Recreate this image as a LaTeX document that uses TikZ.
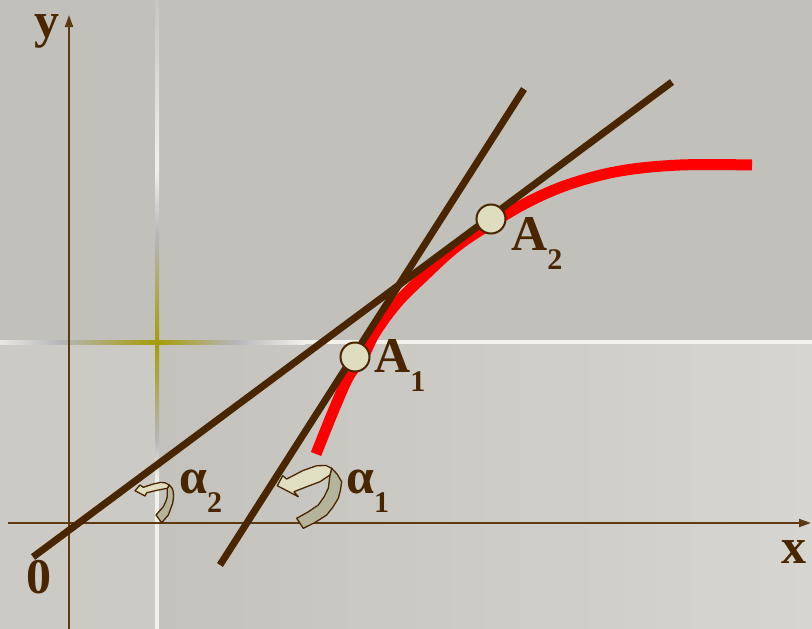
\documentclass[tikz,border=0pt]{standalone}
\usepackage{fontspec}
\setmainfont{Liberation Serif}
\usetikzlibrary{arrows.meta}
\definecolor{bgtop}{HTML}{C1C0BB}
\definecolor{bgleft}{HTML}{CBCAC4}
\definecolor{bglo1}{HTML}{C3C2BD}
\definecolor{bglo2}{HTML}{D6D5CF}
\definecolor{glwhite}{HTML}{F2F1EA}
\definecolor{glgray}{HTML}{B6B6BA}
\definecolor{glolive}{HTML}{A59D05}
\definecolor{glfaint}{HTML}{C6C5C0}
\definecolor{axisbrown}{HTML}{5C3A14}
\definecolor{linebrown}{HTML}{4A2600}
\definecolor{ptfill}{HTML}{DEDDC0}
\definecolor{arlight}{HTML}{E0DFC2}
\definecolor{ardark}{HTML}{B4B49A}
\newcommand\subtx[1]{\lower19pt\hbox{\fontsize{30}{30}\selectfont #1}}
\begin{document}
\begin{tikzpicture}[x=1pt,y=-1pt,
  axisline/.style={draw=axisbrown,line width=2pt,-{Triangle[length=12pt,width=8pt]}},
  tangent/.style={draw=linebrown,line width=7pt},
  curve/.style={draw=red,line width=11pt},
  pt/.style={circle,draw=linebrown,fill=ptfill,line width=2pt,minimum size=29pt,inner sep=0pt},
  lbl/.style={anchor=base west,inner sep=0pt,text=linebrown,font=\fontsize{50}{50}\selectfont\bfseries},
  arlt/.style={fill=arlight,draw=linebrown,line width=1.3pt,line join=round},
  ardk/.style={fill=ardark,draw=linebrown,line width=1.3pt,line join=round}]
\useasboundingbox (0,0) rectangle (812,629);
% background
\fill[bgtop] (0,0) rectangle (812,629);
\fill[bgleft] (0,342) rectangle (157,629);
\shade[left color=bglo1,right color=bglo2] (157,342) rectangle (812,629);
% vertical guide line
\shade[top color=glfaint,bottom color=glwhite] (155,0) rectangle (159,170);
\shade[top color=glwhite,bottom color=glgray] (155,170) rectangle (159,235);
\shade[top color=glgray,bottom color=glolive] (155,235) rectangle (159,342);
\shade[top color=glolive,bottom color=glgray] (155,342) rectangle (159,440);
\shade[top color=glgray,bottom color=glwhite] (155,440) rectangle (159,480);
\fill[glwhite] (155,480) rectangle (159,629);
% horizontal guide line
\shade[left color=glwhite!80!glfaint,right color=glgray] (0,340) rectangle (60,344);
\shade[left color=glgray,right color=glolive] (60,340) rectangle (157,344);
\shade[left color=glolive,right color=glgray] (157,340) rectangle (235,344);
\shade[left color=glgray,right color=glwhite] (235,340) rectangle (305,344);
\fill[glwhite] (305,340) rectangle (812,344);
% axes
\coordinate (yb) at (69,629);
\coordinate (yt) at (69,15);
\coordinate (xl) at (8,523);
\coordinate (xr) at (811,523);
\draw[axisline] (yb) -- (yt);
\draw[axisline] (xl) -- (xr);
% red curve
\draw[curve] plot[smooth,tension=0.6] coordinates {(316,454) (335,407) (349,376) (363,357) (375,333) (397,303) (422,278) (456,247) (492,223) (530,201) (570,184) (620,171) (680,165) (752,165)};
% tangents
\coordinate (t1a) at (220,565);
\coordinate (t1b) at (524,89);
\coordinate (t2a) at (33,557);
\coordinate (t2b) at (672,82);
\draw[tangent] (t1a) -- (t1b);
\draw[tangent] (t2a) -- (t2b);
% points
\node[pt] (A1) at (355,357) {};
\node[pt] (A2) at (491,219) {};
% curled arrows
\draw[ardk] (331.7,468.3) -- (337,474) -- (341.7,481.7) -- (340.5,490) -- (338.3,498.3) -- (333,507) -- (326.7,515) -- (315,522.5) -- (303.3,528.3) -- (296.7,518.3) -- (308,512) -- (318.3,505) -- (324,497) -- (328.3,488.3) -- (330,475) -- cycle;
\draw[arlt] (277.3,485.7) -- (282.7,475.7) -- (286.7,479) -- (303,470.5) -- (316.7,465.7) -- (326,465.5) -- (331.7,468.3) -- (330,475) -- (320,481.7) -- (306.7,486.7) -- (294,491.7) -- (298.3,496.7) -- cycle;
\draw[ardk] (169.3,485) -- (172,488) -- (173.3,491.7) -- (173.5,497) -- (172.7,503.3) -- (168.3,515) -- (161.7,522.7) -- (156,515) -- (163.3,506.7) -- (166,501) -- (167.3,496.7) -- (167.3,488.3) -- cycle;
\draw[arlt] (135,490.7) -- (140,485) -- (143.3,487.3) -- (153.3,484) -- (160,482.5) -- (165,482.7) -- (169.3,485) -- (167.3,488.3) -- (158.3,490) -- (146.7,492.7) -- (145,496) -- cycle;
% labels
\node[lbl,text height=25pt] (ly) at (34,37) {y};
\node[lbl] (lx) at (781,563) {x};
\node[lbl] (lo) at (26,593) {0};
\node[lbl] (lA1) at (374,372) {A\subtx{1}};
\node[lbl] (lA2) at (511,250) {A\subtx{2}};
\node[lbl] (la2) at (179,493) {α\subtx{2}};
\node[lbl] (la1) at (346,493) {α\subtx{1}};
\end{tikzpicture}
\end{document}
